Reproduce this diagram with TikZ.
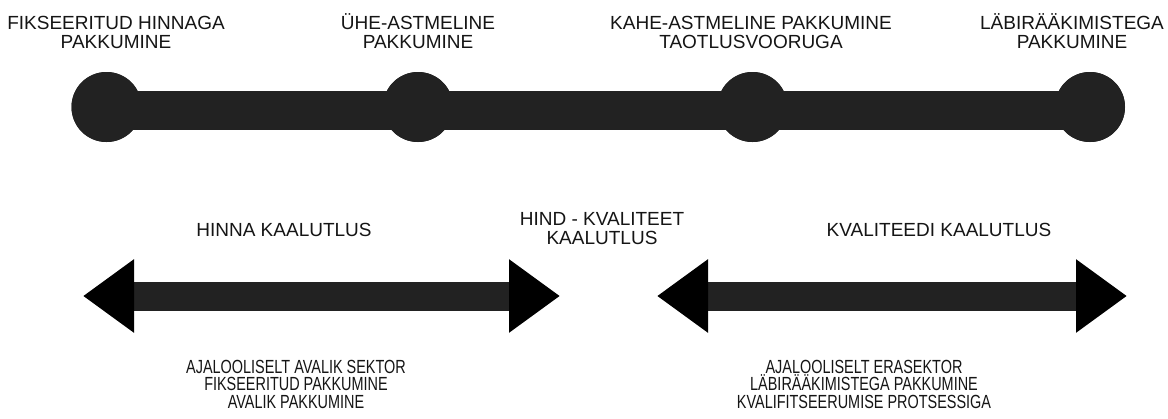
\documentclass[tikz,border=0pt]{standalone}
\usepackage{fontspec}
\setmainfont{Liberation Sans}
\newfontfamily\narrowfont[FakeStretch=0.76]{Liberation Sans}
\usetikzlibrary{arrows.meta}
\definecolor{barcol}{HTML}{222222}
\definecolor{inkcol}{HTML}{151515}
\begin{document}
\begin{tikzpicture}[x=1pt,y=-1pt,
  dot/.style={circle,fill=barcol,minimum size=70pt,inner sep=0pt},
  stagelabel/.style={font=\fontsize{19}{19}\selectfont,align=center,anchor=base,inner sep=0pt,text=inkcol},
  focuslabel/.style={font=\fontsize{19}{18.5}\selectfont,align=center,anchor=base,inner sep=0pt,text=inkcol},
  notelabel/.style={font=\narrowfont\fontsize{19}{17.5}\selectfont,align=center,anchor=base,inner sep=0pt,text=inkcol},
  railbar/.style={line width=39pt,barcol},
  scalearrow/.style={line width=29pt,barcol,
    {Triangle[length=51pt,width=70pt,black]}-{Triangle[length=51pt,width=70pt,black]}},
]
\fill[white] (0,0) rectangle (1168,418);
\useasboundingbox (0,0) rectangle (1168,418);

% procurement stages on one line
\node[dot] (s1) at (106.5,107) {};
\node[dot] (s2) at (418,107) {};
\node[dot] (s3) at (752.5,107) {};
\node[dot] (s4) at (1090,107) {};
\draw[railbar] ([yshift=-3.5pt]s1.center) -- ([yshift=-3.5pt]s4.center);
\node[dot] at (s1) {};
\node[dot] at (s2) {};
\node[dot] at (s3) {};
\node[dot] at (s4) {};

% stage names (anchored at the baseline of the last line)
\node[stagelabel] (t1) at (116,48) {FIKSEERITUD HINNAGA\\PAKKUMINE};
\node[stagelabel] (t2) at (418,48) {ÜHE-ASTMELINE\\PAKKUMINE};
\node[stagelabel] (t3) at (751,48) {KAHE-ASTMELINE PAKKUMINE\\TAOTLUSVOORUGA};
\node[stagelabel] (t4) at (1072,48) {LÄBIRÄÄKIMISTEGA\\PAKKUMINE};

% evaluation focus
\node[focuslabel] (f1) at (284,236) {HINNA KAALUTLUS};
\node[focuslabel] (f2) at (602,244) {HIND - KVALITEET\\KAALUTLUS};
\node[focuslabel] (f3) at (939,236) {KVALITEEDI KAALUTLUS};

\coordinate (a1) at (83,296);
\coordinate (a2) at (560,296);
\coordinate (b1) at (657,296);
\coordinate (b2) at (1127,296);
\draw[scalearrow] (a1) -- (a2);
\draw[scalearrow] (b1) -- (b2);

% sector notes
\node[notelabel] (n1) at (296,408) {AJALOOLISELT AVALIK SEKTOR\\FIKSEERITUD PAKKUMINE\\AVALIK PAKKUMINE};
\node[notelabel] (n2) at (864,408) {AJALOOLISELT ERASEKTOR\\LÄBIRÄÄKIMISTEGA PAKKUMINE\\KVALIFITSEERUMISE PROTSESSIGA};
\end{tikzpicture}
\end{document}
